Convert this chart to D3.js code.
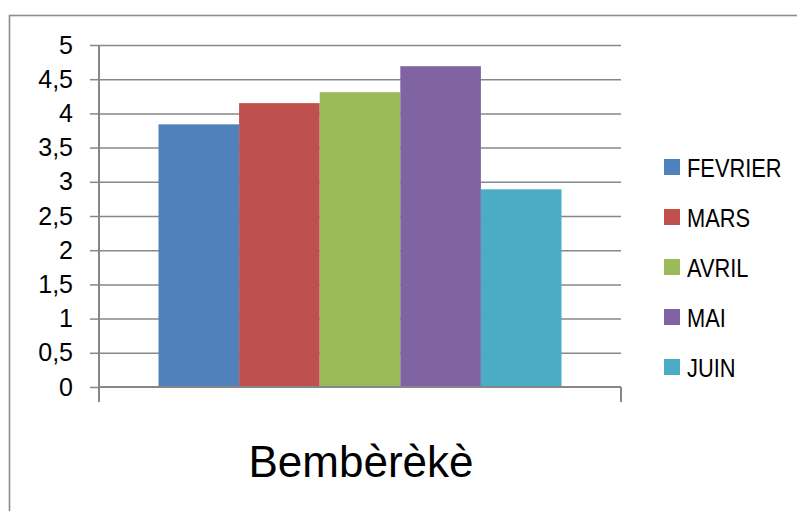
<!DOCTYPE html>
<html>
<head>
<meta charset="utf-8">
<script src="https://cdn.jsdelivr.net/npm/d3@7"></script>
<style>
  html, body { margin: 0; padding: 0; background: #fff; }
  svg { display: block; font-family: "Liberation Sans", Arial, sans-serif; }
</style>
</head>
<body>
<svg id="chart" width="797" height="511"></svg>
<script>
const category = "Bembèrèkè";
const seriesNames = ["FEVRIER", "MARS", "AVRIL", "MAI", "JUIN"];
const seriesValues = [3.84, 4.15, 4.31, 4.69, 2.89];
const seriesColors = ["#4F81BD", "#C0504D", "#9BBB59", "#8064A2", "#4BACC6"];
const yTicks = [0, 0.5, 1, 1.5, 2, 2.5, 3, 3.5, 4, 4.5, 5];

const svg = d3.select("#chart");
const W = 797, H = 511;
const plot = { left: 99, right: 621, top: 45, bottom: 387 };
const axisColor = "#878787";

// outer chart border (extends beyond the visible frame at right/bottom)
svg.append("rect")
  .attr("x", 9.5).attr("y", 15.5)
  .attr("width", 900).attr("height", 600)
  .attr("fill", "none").attr("stroke", "#8c8c8c").attr("stroke-width", 1.6);

const y = d3.scaleLinear().domain([0, 5]).range([plot.bottom, plot.top]);
const x0 = d3.scaleBand().domain([category]).range([plot.left, plot.right])
  .paddingInner(0).paddingOuter(0.1476);
const x1 = d3.scaleBand().domain(seriesNames).range([0, x0.bandwidth()]).padding(0);

const fmt = v => d3.format("")(v).replace(".", ",");

// gridlines
const grid = svg.append("g")
  .attr("transform", `translate(${plot.left},0)`)
  .call(d3.axisLeft(y).tickValues(yTicks.filter(v => v > 0)).tickSize(-(plot.right - plot.left)).tickFormat(""));
grid.select(".domain").remove();
grid.selectAll(".tick line").attr("stroke", axisColor).attr("stroke-width", 1.5);

// bars
const rows = seriesNames.map((n, i) => ({ name: n, value: seriesValues[i], color: seriesColors[i] }));
svg.append("g").selectAll("rect").data(rows).join("rect")
  .attr("x", d => x0(category) + x1(d.name))
  .attr("y", d => y(d.value))
  .attr("width", x1.bandwidth())
  .attr("height", d => y(0) - y(d.value))
  .attr("fill", d => d.color);

// y axis with outside ticks
const yAxis = svg.append("g")
  .attr("transform", `translate(${plot.left},0)`)
  .call(d3.axisLeft(y).tickValues(yTicks).tickSize(9).tickSizeOuter(0).tickFormat(fmt).tickPadding(17));
yAxis.select(".domain").remove();
yAxis.selectAll(".tick line").attr("stroke", axisColor).attr("stroke-width", 1.5);
yAxis.selectAll(".tick text")
  .attr("fill", "#000").attr("font-size", 25)
  .attr("font-family", "'Liberation Sans', Arial, sans-serif");

// vertical axis line extending below 0
svg.append("line")
  .attr("x1", plot.left).attr("x2", plot.left)
  .attr("y1", y(5)).attr("y2", y(0) + 15)
  .attr("stroke", axisColor).attr("stroke-width", 2);

// x axis
const xAxis = svg.append("g")
  .attr("transform", `translate(0,${plot.bottom})`)
  .call(d3.axisBottom(x0).tickSize(0).tickFormat(""));
xAxis.select(".domain").attr("stroke", axisColor).attr("stroke-width", 2.2)
  .attr("d", `M${plot.left},0H${plot.right}`);
// right boundary tick
svg.append("line")
  .attr("x1", plot.right).attr("x2", plot.right)
  .attr("y1", y(0)).attr("y2", y(0) + 15)
  .attr("stroke", axisColor).attr("stroke-width", 2);

// category label
svg.append("text")
  .attr("x", x0(category) + x0.bandwidth() / 2 + 1)
  .attr("y", 477)
  .attr("text-anchor", "middle")
  .attr("font-size", 44)
  .attr("fill", "#000")
  .text(category);

// legend
const legend = svg.append("g");
const lg = legend.selectAll("g").data(rows).join("g")
  .attr("transform", (d, i) => `translate(664,${167 + i * 50})`);
lg.append("rect")
  .attr("x", 0).attr("y", -8).attr("width", 16).attr("height", 16)
  .attr("fill", d => d.color);
lg.append("text")
  .attr("transform", "translate(23,9.5) scale(0.84,1)")
  .attr("font-size", 26)
  .attr("fill", "#000")
  .text(d => d.name);
</script>
</body>
</html>
